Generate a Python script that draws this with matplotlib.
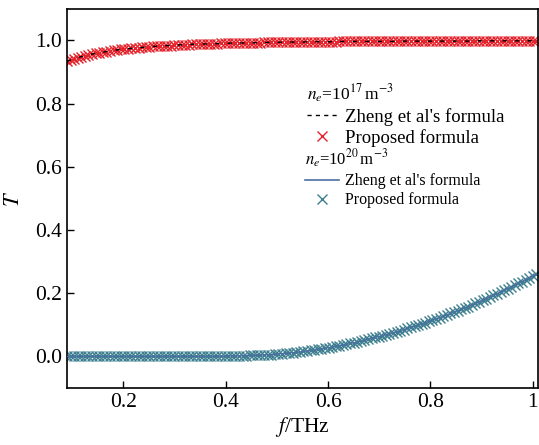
import numpy as np
import matplotlib
matplotlib.use("Agg")
from matplotlib import pyplot as plt
from matplotlib.lines import Line2D

plt.rcParams['font.family'] = ['Liberation Serif', 'DejaVu Serif']
plt.rcParams['mathtext.fontset'] = 'stix'

# frequency grid (THz)
freq = 0.09 + 0.007 * np.arange(132)

# ne = 1e17 m^-3
T_low = [0.934, 0.938, 0.942, 0.946, 0.949, 0.952, 0.955, 0.957, 0.959, 0.961,
         0.963, 0.965, 0.967, 0.969, 0.970, 0.972, 0.973, 0.974, 0.975, 0.976,
         0.977, 0.978, 0.979, 0.980, 0.981, 0.982, 0.982, 0.983, 0.984, 0.984,
         0.985, 0.986, 0.986, 0.987, 0.987, 0.988, 0.988, 0.988, 0.989, 0.989,
         0.990, 0.990, 0.990, 0.991, 0.991, 0.991, 0.992, 0.992, 0.992, 0.992,
         0.993, 0.993, 0.993, 0.993, 0.993, 0.994, 0.994, 0.994, 0.994, 0.994,
         0.995, 0.995, 0.995, 0.995, 0.995, 0.995, 0.995, 0.996, 0.996, 0.996,
         0.996, 0.996, 0.996, 0.996, 0.996, 0.996, 0.997, 0.997, 0.997, 0.997,
         0.997, 0.997, 0.997, 0.997, 0.997, 0.997, 0.997, 0.997, 0.997, 0.997,
         0.997, 0.997, 0.997, 0.998, 0.998, 0.998, 0.998, 0.998, 0.998, 0.998,
         0.998, 0.998, 0.998, 0.998, 0.998, 0.998, 0.998, 0.998, 0.998, 0.998,
         0.998, 0.998, 0.998, 0.998, 0.998, 0.999, 0.999, 0.999, 0.999, 0.999,
         0.999, 0.999, 0.999, 0.999, 0.999, 0.999, 0.999, 0.999, 0.999, 0.999,
         0.999, 0.999]

# ne = 1e20 m^-3
T_high = [0.000] * 45 + [
    0.001, 0.001, 0.001, 0.002, 0.002, 0.002, 0.003, 0.003, 0.004, 0.004,
    0.005, 0.005, 0.006, 0.007, 0.008,
    0.009, 0.010, 0.011, 0.012, 0.013, 0.014, 0.016, 0.017, 0.019, 0.020,
    0.022, 0.024, 0.026, 0.028, 0.030, 0.032, 0.034, 0.036, 0.038, 0.041,
    0.043, 0.046, 0.048, 0.051, 0.054, 0.057, 0.060, 0.063, 0.066, 0.069,
    0.072, 0.075, 0.078, 0.082, 0.085, 0.089, 0.092, 0.096, 0.100, 0.103,
    0.107, 0.111, 0.115, 0.119, 0.123, 0.127, 0.131, 0.136, 0.140, 0.145,
    0.149, 0.154, 0.158, 0.163, 0.168, 0.173, 0.178, 0.183, 0.188, 0.193,
    0.198, 0.204, 0.209, 0.215, 0.220, 0.226, 0.231, 0.237, 0.243, 0.249,
    0.255, 0.261]

red = '#e3222c'
teal = '#3d7f90'
lineblue = '#4c6fa3'

fig = plt.figure(figsize=(5.39, 4.45), dpi=100)
ax = fig.add_axes([0.1243, 0.128, 0.8737, 0.852])

ax.plot(freq, T_low, 'x', color=red, ms=7, mew=1.0, zorder=2)
ax.plot(freq, T_low, '--', color='black', lw=1.0, dashes=(3, 6), zorder=3)
ax.plot(freq, T_high, 'x', color=teal, ms=7, mew=1.0, zorder=2)
ax.plot(freq, T_high, '-', color=lineblue, lw=1.0, zorder=3)

ax.set_xlim(0.09, 1.01)
ax.set_ylim(-0.1, 1.1)
ax.set_xticks([0.2, 0.4, 0.6, 0.8, 1.0])
ax.set_xticklabels(['0.2', '0.4', '0.6', '0.8', '1'])
ax.set_yticks([0.0, 0.2, 0.4, 0.6, 0.8, 1.0])
ax.tick_params(direction='in', length=5, width=1, labelsize=15.5, top=False, right=False)
for s in ax.spines.values():
    s.set_linewidth(1.2)
ax.set_xlabel(r'$f$/THz', fontsize=15.5, labelpad=2)
ax.set_ylabel(r'$T$', fontsize=16, labelpad=8)

h1 = [Line2D([], [], color='black', ls='--', dashes=(3, 3), lw=1.0),
      Line2D([], [], color=red, marker='x', ls='none', ms=7, mew=1.0)]
leg1 = ax.legend(h1, ["Zheng et al's formula", 'Proposed formula'],
                 title=r'$n_e$=10$^{17}\,$m$^{-3}$', title_fontsize=12.5,
                 fontsize=13.5, frameon=False, loc='upper left',
                 bbox_to_anchor=(0.489, 0.83), alignment='left',
                 handlelength=1.6, handletextpad=0.45, borderpad=0,
                 labelspacing=0.15)
ax.add_artist(leg1)

h2 = [Line2D([], [], color=lineblue, ls='-', lw=1.2),
      Line2D([], [], color=teal, marker='x', ls='none', ms=7, mew=1.0)]
ax.legend(h2, ["Zheng et al's formula", 'Proposed formula'],
          title=r'$n_e$=10$^{20}\,$m$^{-3}$', title_fontsize=12,
          fontsize=11.5, frameon=False, loc='upper left',
          bbox_to_anchor=(0.489, 0.655), alignment='left',
          handlelength=2.1, handletextpad=0.4, borderpad=0,
          labelspacing=0.2)

fig.savefig('out.png', dpi=100)
